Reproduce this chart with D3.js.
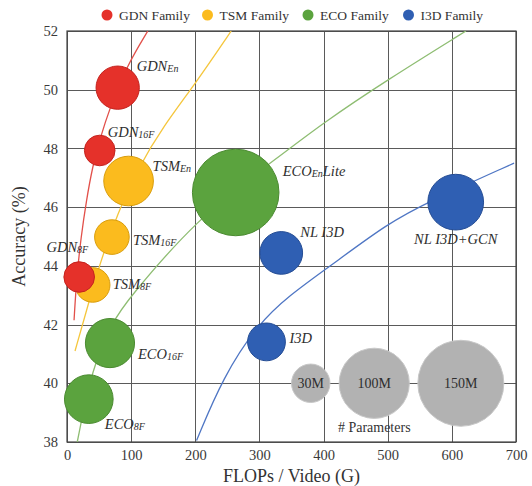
<!DOCTYPE html>
<html><head><meta charset="utf-8">
<script src="https://cdn.jsdelivr.net/npm/d3@7"></script>
</head>
<body style="margin:0;background:#fff"><svg id="chart" width="532" height="486"></svg>
<script>
// ---------- data ----------
const families = ["GDN Family","TSM Family","ECO Family","I3D Family"];
const familyColors = ["#e5312a","#fbbb1e","#5ba33e","#2f5fb3"];
const familyStroke = ["#c4231e","#d99d0c","#4a8a30","#244c94"];
const curveColors = ["#e2504a","#f5c63c","#8ebd72","#4f76c4"];

// bubbles: FLOPs (G), accuracy (%), params (M)
const gdnNames = ["GDN|8F","GDN|16F","GDN|En"];
const gdnFlops = [19, 51, 79];
const gdnAcc = [43.62, 47.93, 50.07];
const gdnParams = [19, 19, 38];

const tsmNames = ["TSM|8F","TSM|16F","TSM|En"];
const tsmFlops = [40, 70, 96];
const tsmAcc = [43.35, 44.98, 46.89];
const tsmParams = [24.3, 24.3, 50];

const ecoNames = ["ECO|8F","ECO|16F","ECO|En|Lite"];
const ecoFlops = [34, 67, 263];
const ecoAcc = [39.46, 41.37, 46.5];
const ecoParams = [48, 49, 152];

const i3dNames = ["I3D","NL I3D","NL I3D+GCN"];
const i3dFlops = [311, 334, 606];
const i3dAcc = [41.41, 44.44, 46.17];
const i3dParams = [29, 37, 63];

// trend curves: [FLOPs, accuracy]
const gdnCurve = [[11,42.15],[15,43.6],[22,45.0],[30,46.2],[40,47.4],[51,48.3],[67,49.4],[93,50.8],[126,52]];
const tsmCurve = [[12.5,41.1],[34,42.75],[50,44.0],[79,45.8],[110,47.3],[150,48.75],[200,50.2],[256,52]];
const ecoCurve = [[16,38],[39,40.55],[73,42.16],[93,42.8],[202,45.6],[319,47.53],[401,48.9],[499,50.33],[622,52]];
const i3dCurve = [[202,38.05],[243,40.2],[297,42.0],[347,43.0],[409,43.97],[500,45.45],[565,46.2],[697,47.5]];

// size legend
const sizeLegendParams = [30, 100, 150];
const sizeLegendLabels = ["30M","100M","150M"];
const sizeLegendFlops = [380, 479, 614];
const sizeLegendAcc = 40;

const xTicks = [0,100,200,300,400,500,600,700];
const yTicks = [38,40,42,44,46,48,50,52];

// ---------- layout ----------
const FONT = '"Liberation Serif"';
const plot = {left:67, right:516, top:31, bottom:442};
// label offsets in px relative to bubble centre [dx, dy, anchor]
const labelLayout = {
  "GDN|8F":[9,-25,"end"], "GDN|16F":[8,-13.5,"start"], "GDN|En":[19,-17,"start"],
  "TSM|8F":[20,4,"start"], "TSM|16F":[21,8,"start"], "TSM|En":[24,-10,"start"],
  "ECO|8F":[16,30,"start"], "ECO|16F":[28,16,"start"], "ECO|En|Lite":[47,-16.5,"start"],
  "I3D":[23,1,"start"], "NL I3D":[19,-16,"start"], "NL I3D+GCN":[0,42,"middle"]
};

const svg = d3.select("#chart");
const x = d3.scaleLinear().domain([0,700]).range([plot.left, plot.right]);
const y = d3.scaleLinear().domain([38,52]).range([plot.bottom, plot.top]);
const r = d3.scaleSqrt().domain([0,150]).range([0,43]);

svg.append("defs").append("clipPath").attr("id","clip")
  .append("rect").attr("x",plot.left).attr("y",plot.top)
  .attr("width",plot.right-plot.left).attr("height",plot.bottom-plot.top);

// gridlines
const grid = svg.append("g").attr("class","grid").attr("shape-rendering","crispEdges");
grid.append("g").attr("transform",`translate(0,${plot.bottom})`)
  .call(d3.axisBottom(x).tickValues(xTicks).tickSize(-(plot.bottom-plot.top)).tickFormat(""))
  .call(g=>g.select(".domain").remove())
  .call(g=>g.selectAll("line").attr("stroke","#5a5a5a").attr("stroke-width",1));
grid.append("g").attr("transform",`translate(${plot.left},0)`)
  .call(d3.axisLeft(y).tickValues(yTicks).tickSize(-(plot.right-plot.left)).tickFormat(""))
  .call(g=>g.select(".domain").remove())
  .call(g=>g.selectAll("line").attr("stroke","#5a5a5a").attr("stroke-width",1));
svg.append("rect").attr("x",plot.left).attr("y",plot.top)
  .attr("width",plot.right-plot.left).attr("height",plot.bottom-plot.top)
  .attr("fill","none").attr("stroke","#444").attr("stroke-width",1.2);

// tick labels
svg.append("g").attr("transform",`translate(0,${plot.bottom})`)
  .call(d3.axisBottom(x).tickValues(xTicks).tickSize(0).tickPadding(8))
  .call(g=>g.select(".domain").remove())
  .call(g=>g.selectAll("text").style("font-family",FONT).attr("font-size",14.5).attr("fill","#3a3a3a"));
svg.append("g").attr("transform",`translate(${plot.left},0)`)
  .call(d3.axisLeft(y).tickValues(yTicks).tickSize(0).tickPadding(9))
  .call(g=>g.select(".domain").remove())
  .call(g=>g.selectAll("text").style("font-family",FONT).attr("font-size",14.5).attr("fill","#3a3a3a"));

// axis titles
svg.append("text").attr("x",(plot.left+plot.right)/2).attr("y",482).style("font-family",FONT)
  .attr("text-anchor","middle").attr("font-size",18).attr("fill","#333").text("FLOPs / Video (G)");
svg.append("text").attr("transform",`translate(25,${(plot.top+plot.bottom)/2}) rotate(-90)`).style("font-family",FONT)
  .attr("text-anchor","middle").attr("font-size",18).attr("fill","#333").text("Accuracy (%)");

// curves
const line = d3.line().x(d=>x(d[0])).y(d=>y(d[1])).curve(d3.curveBasis);
const curves = [gdnCurve, tsmCurve, ecoCurve, i3dCurve];
const cg = svg.append("g").attr("clip-path","url(#clip)");
curves.forEach((c,i)=>{
  cg.append("path").attr("d",line(c)).attr("fill","none")
    .attr("stroke",curveColors[i]).attr("stroke-width",1.3);
});

// size legend bubbles
const sl = svg.append("g");
sizeLegendParams.forEach((p,i)=>{
  sl.append("circle").attr("cx",x(sizeLegendFlops[i])).attr("cy",y(sizeLegendAcc))
    .attr("r",r(p)).attr("fill","#b2b2b2").attr("stroke","#c8c8c8").attr("stroke-width",1);
  sl.append("text").attr("x",x(sizeLegendFlops[i])).attr("y",y(sizeLegendAcc)+5).style("font-family",FONT)
    .attr("text-anchor","middle").attr("font-size",14).attr("fill","#2e2e2e").text(sizeLegendLabels[i]);
});
sl.append("text").attr("x",x(sizeLegendFlops[1])).attr("y",y(sizeLegendAcc)+49).style("font-family",FONT)
  .attr("text-anchor","middle").attr("font-size",14).attr("fill","#333").text("# Parameters");

// bubbles (draw order: TSM, GDN, ECO, I3D)
const fam = [
  {names:gdnNames, fl:gdnFlops, ac:gdnAcc, pa:gdnParams, c:0},
  {names:tsmNames, fl:tsmFlops, ac:tsmAcc, pa:tsmParams, c:1},
  {names:ecoNames, fl:ecoFlops, ac:ecoAcc, pa:ecoParams, c:2},
  {names:i3dNames, fl:i3dFlops, ac:i3dAcc, pa:i3dParams, c:3}
];
const order = [1,0,2,3];
const bg = svg.append("g");
order.forEach(k=>{
  const f = fam[k];
  f.names.forEach((n,i)=>{
    bg.append("circle").attr("cx",x(f.fl[i])).attr("cy",y(f.ac[i])).attr("r",r(f.pa[i]))
      .attr("fill",familyColors[f.c]).attr("stroke",familyStroke[f.c]).attr("stroke-width",1);
  });
});
// labels
const lg = svg.append("g");
fam.forEach(f=>{
  f.names.forEach((n,i)=>{
    const L = labelLayout[n];
    const parts = n.split("|");
    const t = lg.append("text").attr("x",x(f.fl[i])+L[0]).attr("y",y(f.ac[i])+L[1])
      .style("font-family",FONT).style("font-style","italic").attr("fill","#2e2e2e")
      .attr("text-anchor",L[2]).attr("font-size",14.5);
    t.append("tspan").text(parts[0]);
    if(parts[1]) t.append("tspan").attr("font-size",10).attr("dy",1).text(parts[1]);
    if(parts[2]) t.append("tspan").attr("font-size",14.5).attr("dy",-1).text(parts[2]);
  });
});

// top legend
const leg = svg.append("g");
families.forEach((name,i)=>{
  const cx = 107 + i*100.5;
  leg.append("circle").attr("cx",cx).attr("cy",15).attr("r",5.5).attr("fill",familyColors[i]);
  leg.append("text").attr("x",cx+12).attr("y",19.5).style("font-family",FONT)
    .attr("font-size",13.5).attr("fill","#333").text(name);
});
</script></body></html>
